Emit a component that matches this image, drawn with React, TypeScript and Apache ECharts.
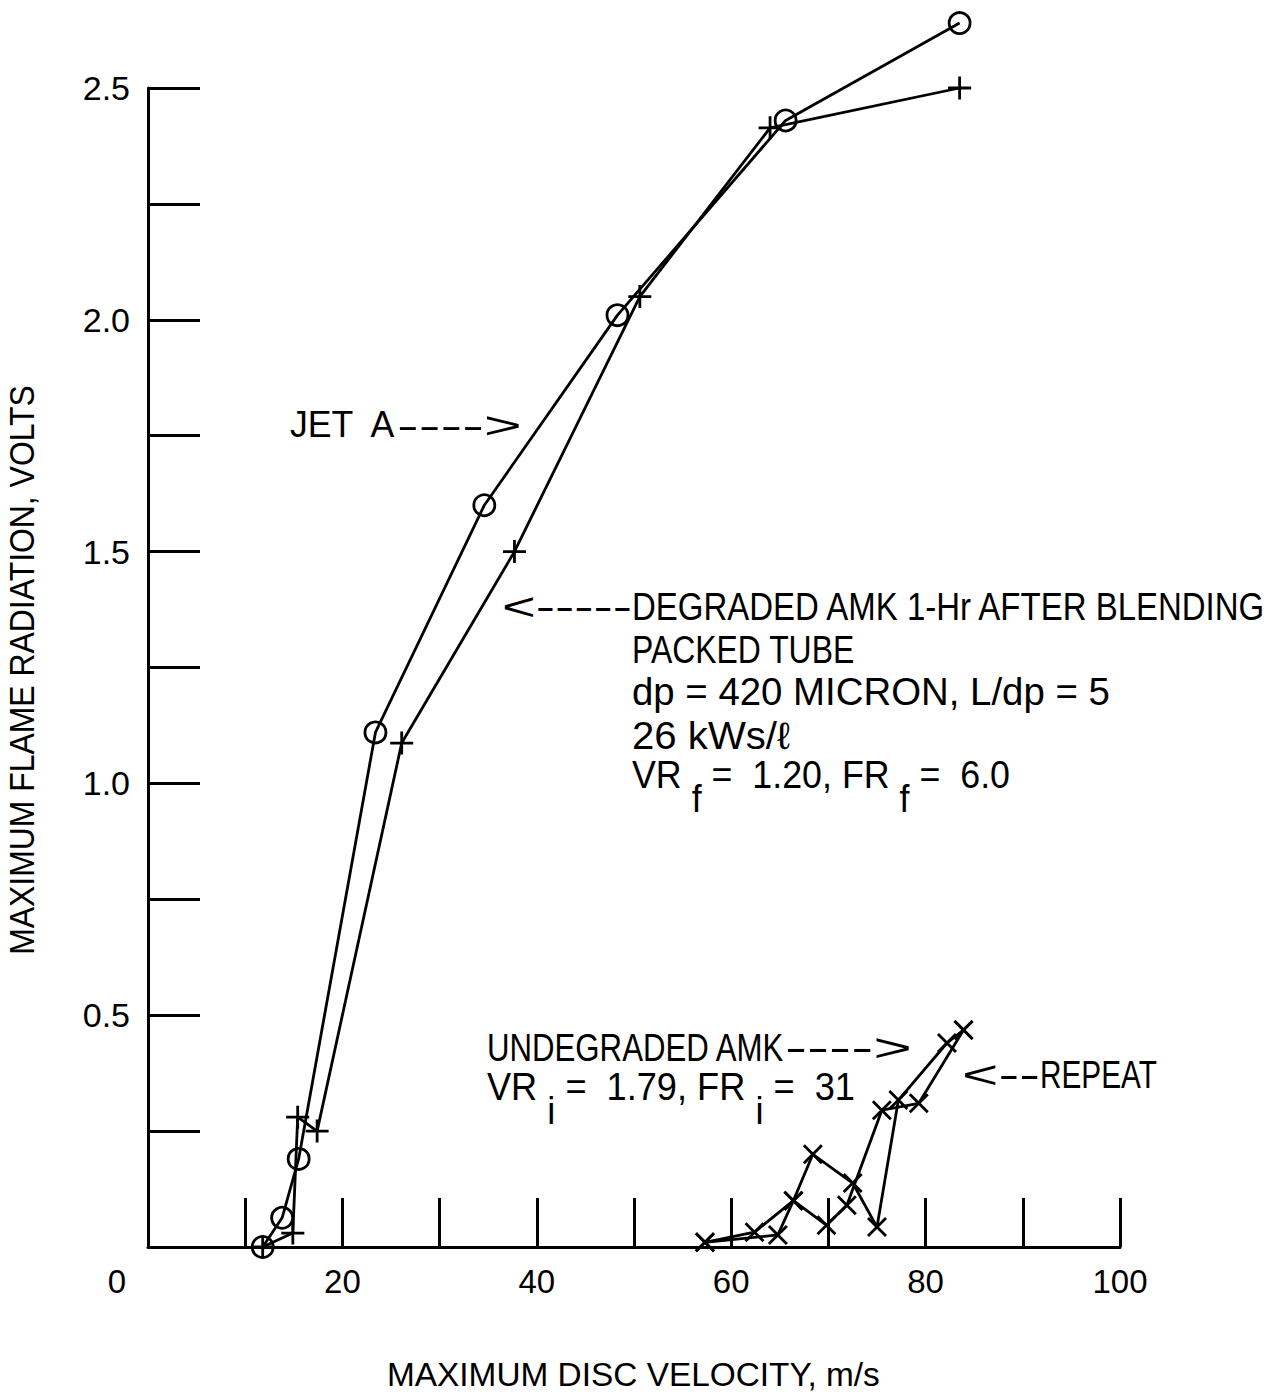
import React, { useEffect, useRef } from 'react';
import * as echarts from 'echarts';

// ---- data ----
const jetAVelocity = [11.8, 13.8, 15.5, 23.4, 34.6, 48.3, 65.6, 83.5];
const jetARadiation = [0, 0.063, 0.19, 1.11, 1.6, 2.01, 2.43, 2.64];

const degradedVelocity = [11.8, 14.9, 15.4, 17.4, 26.1, 37.7, 50.6, 64.0, 83.5];
const degradedRadiation = [0, 0.03, 0.28, 0.25, 1.087, 1.5, 2.05, 2.414, 2.5];

const undegradedVelocity = [57.3, 64.8, 66.4, 68.4, 72.5, 75.0, 77.2, 82.2, 83.9];
const undegradedRadiation = [0.01, 0.026, 0.1, 0.2, 0.138, 0.043, 0.317, 0.44, 0.468];

const repeatVelocity = [57.3, 62.4, 66.4, 69.8, 71.9, 75.5, 79.3, 83.9];
const repeatRadiation = [0.01, 0.032, 0.1, 0.047, 0.09, 0.295, 0.31, 0.468];

const xLabelValues = [0, 20, 40, 60, 80, 100];
const yLabelValues = [0.5, 1.0, 1.5, 2.0, 2.5];

const xTitle = 'MAXIMUM DISC VELOCITY, m/s';
const yTitle = 'MAXIMUM FLAME RADIATION, VOLTS';

const FONT = "'Liberation Sans', Arial, Helvetica, sans-serif";

const zip = (xs: number[], ys: number[]) => xs.map((x, i) => [x, ys[i]]);

let measureCtx: CanvasRenderingContext2D | null = null;
function measure(text: string, size: number): number {
  if (!measureCtx) measureCtx = document.createElement('canvas').getContext('2d');
  measureCtx!.font = `${size}px ${FONT}`;
  return measureCtx!.measureText(text).width;
}

function fitted(text: string, x1: number, x2: number, cy: number, size: number) {
  const w = measure(text, size);
  return {
    type: 'text',
    x: x1,
    y: cy,
    scaleX: (x2 - x1) / w,
    silent: true,
    style: {
      text,
      fontSize: size,
      fontFamily: FONT,
      fill: '#000',
      textAlign: 'left',
      verticalAlign: 'middle',
    },
  };
}

type Seg = { t: string; sub?: boolean };
function fittedSegments(segs: Seg[], x1: number, x2: number, cy: number, size: number, subDrop: number) {
  const widths = segs.map((s) => measure(s.t, size));
  const total = widths.reduce((a, b) => a + b, 0);
  const k = (x2 - x1) / total;
  let cx = x1;
  return segs.map((s, i) => {
    const el = {
      type: 'text',
      x: cx,
      y: cy + (s.sub ? subDrop : 0),
      scaleX: k,
      silent: true,
      style: {
        text: s.t,
        fontSize: size,
        fontFamily: FONT,
        fill: '#000',
        textAlign: 'left',
        verticalAlign: 'middle',
      },
    };
    cx += widths[i] * k;
    return el;
  });
}

const plusSymbol = 'path://M10,0 L10,20 M0,10 L20,10';
const crossSymbol = 'path://M0,0 L20,20 M20,0 L0,20';

export default function App() {
  const ref = useRef<HTMLDivElement>(null);

  useEffect(() => {
    document.body.style.margin = '0';
    const chart = echarts.init(ref.current!, null, { renderer: 'svg' });

    const lineStyle = { color: '#000', width: 2.8 };
    const markerStyle = { color: 'none', borderColor: '#000', borderWidth: 2.8 };

    const ann = 38;
    const graphics: any[] = [
      fitted('JET  A', 290, 397, 425, 36),
      fitted('---->', 397, 522, 425, 36),
      fitted('<-----', 502, 632, 607, ann),
      fitted('DEGRADED AMK 1-Hr AFTER BLENDING', 632, 1268, 607, ann),
      fitted('PACKED TUBE', 632, 855, 649, ann),
      fitted('dp = 420 MICRON, L/dp = 5', 632, 1110, 692, ann),
      fitted('26 kWs/ℓ', 632, 790, 736, ann),
      ...fittedSegments(
        [{ t: 'VR ' }, { t: 'f', sub: true }, { t: ' =  1.20, FR ' }, { t: 'f', sub: true }, { t: ' =  6.0' }],
        632, 1010, 775, ann, 24
      ),
      fitted('UNDEGRADED AMK', 487, 785, 1048, ann),
      fitted('---->', 785, 912, 1048, ann),
      ...fittedSegments(
        [{ t: 'VR ' }, { t: 'i', sub: true }, { t: ' =  1.79, FR ' }, { t: 'i', sub: true }, { t: ' =  31' }],
        487, 855, 1087, ann, 24
      ),
      fitted('<--', 962, 1040, 1075, ann),
      fitted('REPEAT', 1040, 1157, 1075, ann),
    ];

    // axis titles
    graphics.push(fitted(xTitle, 387, 880, 1374, 34));
    const yw = measure(yTitle, 35);
    graphics.push({
      type: 'text',
      x: 22,
      y: 670,
      rotation: Math.PI / 2,
      scaleX: 570 / yw,
      silent: true,
      style: {
        text: yTitle,
        fontSize: 35,
        fontFamily: FONT,
        fill: '#000',
        textAlign: 'center',
        verticalAlign: 'middle',
      },
    });

    const option: any = {
      animation: false,
      backgroundColor: '#fff',
      grid: { left: 148, right: 160, top: 88, bottom: 148, containLabel: false, outerBoundsMode: 'none' },
      xAxis: {
        type: 'value',
        min: 0,
        max: 100,
        interval: 10,
        axisLine: { show: true, onZero: false, lineStyle: { color: '#000', width: 3 } },
        axisTick: { show: true, inside: true, length: 49, lineStyle: { color: '#000', width: 3 } },
        splitLine: { show: false },
        axisLabel: {
          color: '#000',
          fontSize: 33,
          fontFamily: FONT,
          margin: 18,
          formatter: (v: number) => {
            const r = Math.round(v);
            if (!xLabelValues.includes(r)) return '';
            return r === 0 ? '{z|0}' : String(r);
          },
          rich: {
            z: { fontSize: 33, fontFamily: FONT, color: '#000', padding: [0, 62, 0, 0] },
          },
        },
      },
      yAxis: {
        type: 'value',
        min: 0,
        max: 2.5,
        interval: 0.25,
        axisLine: { show: true, onZero: false, lineStyle: { color: '#000', width: 3 } },
        axisTick: { show: true, inside: true, length: 52, lineStyle: { color: '#000', width: 3 } },
        splitLine: { show: false },
        axisLabel: {
          color: '#000',
          fontSize: 34,
          fontFamily: FONT,
          margin: 18,
          formatter: (v: number) => {
            const m = yLabelValues.find((y) => Math.abs(y - v) < 1e-6);
            return m !== undefined ? m.toFixed(1) : '';
          },
        },
      },
      series: [
        {
          name: 'JET A',
          type: 'line',
          clip: false,
          data: zip(jetAVelocity, jetARadiation),
          symbol: 'circle',
          symbolSize: 21,
          lineStyle,
          itemStyle: markerStyle,
          z: 3,
        },
        {
          name: 'DEGRADED AMK',
          type: 'line',
          clip: false,
          data: zip(degradedVelocity, degradedRadiation),
          symbol: plusSymbol,
          symbolSize: 23,
          lineStyle,
          itemStyle: markerStyle,
          z: 3,
        },
        {
          name: 'UNDEGRADED AMK',
          type: 'line',
          clip: false,
          data: zip(undegradedVelocity, undegradedRadiation),
          symbol: crossSymbol,
          symbolSize: 18,
          lineStyle,
          itemStyle: markerStyle,
          z: 3,
        },
        {
          name: 'REPEAT',
          type: 'line',
          clip: false,
          data: zip(repeatVelocity, repeatRadiation),
          symbol: crossSymbol,
          symbolSize: 18,
          lineStyle,
          itemStyle: markerStyle,
          z: 3,
        },
      ],
      graphic: graphics,
    };

    chart.setOption(option);
    return () => chart.dispose();
  }, []);

  return <div ref={ref} style={{ width: 1280, height: 1395 }} />;
}
